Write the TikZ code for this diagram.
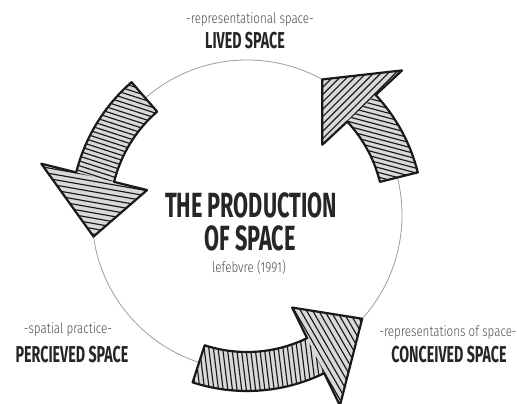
\documentclass[tikz,border=0pt]{standalone}
\usepackage{fontspec}
\setsansfont{Fira Sans}
\newfontfamily\TitleFont[FakeStretch=0.62]{Fira Sans}
\newfontfamily\SubFont[FakeStretch=0.8]{Fira Sans Light}
\usetikzlibrary{positioning}

\newcommand{\BodyPath}[2]{(#1:137) arc[start angle=#1, end angle=#2, radius=137] -- (#2:176) arc[start angle=#2, end angle=#1, radius=176] -- cycle}
\newcommand{\HeadPath}[2]{(#1:103) -- (#2:155) -- (#1:212) -- cycle}
\newcommand{\HatchArrow}[5]{%
	\fill[arrowFill] \BodyPath{#1}{#2};
	\fill[arrowFill] \HeadPath{#2}{#3};
	\begin{scope}
		\clip \BodyPath{#1}{#2};
		\foreach \k in {-18,...,18}
			\draw[hatchStyle, shift={(#1/2+#2/2:156)}, rotate=#4] (-95,\k*4.6) -- (95,\k*4.6);
	\end{scope}
	\begin{scope}
		\clip \HeadPath{#2}{#3};
		\foreach \k in {-16,...,16}
			\draw[hatchStyle, shift={(#2/3+#2/3+#3/3:155)}, rotate=#5] (-90,\k*5.2) -- (90,\k*5.2);
	\end{scope}
	\draw[arrowLine] (#1:137) arc[start angle=#1, end angle=#2, radius=137] -- (#2:103) -- (#3:155) -- (#2:212) -- (#2:176) arc[start angle=#2, end angle=#1, radius=176] -- cycle;
}

\begin{document}
\begin{tikzpicture}[x=1pt, y=1pt, font=\sffamily]
	\tikzstyle{arrowFill} = [fill=gray!30]
	\tikzstyle{hatchStyle} = [line width=1.15pt, black!90]
	\tikzstyle{arrowLine} = [line width=2.2pt, black!90, line join=round]
	\tikzstyle{ringStyle} = [line width=0.8pt, gray!75]
	\tikzstyle{bigLabel} = [inner sep=0pt, font=\TitleFont\bfseries\fontsize{23}{25}\selectfont, black!85]
	\tikzstyle{smallLabel} = [inner sep=0pt, font=\SubFont\fontsize{14.5}{16}\selectfont, black!70]
	\tikzstyle{titleLabel} = [inner sep=0pt, font=\TitleFont\bfseries\fontsize{35}{38}\selectfont, black!85]
	\useasboundingbox (0,0) rectangle (517,404);
	\fill[white] (0,0) rectangle (517,404);
	\coordinate (centre) at (247,189);
	\draw[ringStyle] (centre) circle[radius=155];
	\begin{scope}[shift={(centre)}]
		\HatchArrow{131}{166}{188}{-18}{-10}
		\HatchArrow{14}{43}{61}{-15}{45}
		\HatchArrow{252}{296}{318}{97}{-60}
	\end{scope}
	\node[titleLabel] (title1) at (251,199) {THE PRODUCTION};
	\node[titleLabel] (title2) at (250,166) {OF SPACE};
	\node[smallLabel] (author) at (249,137) {lefebvre (1991)};
	\node[smallLabel] (livedSub) at (250,384) {-representational space-};
	\node[bigLabel] (lived) at (245,363) {LIVED SPACE};
	\node[smallLabel] (percSub) at (68,74) {-spatial practice-};
	\node[bigLabel] (perc) at (72,49) {PERCIEVED SPACE};
	\node[smallLabel] (concSub) at (448,71) {-representations of space-};
	\node[bigLabel] (conc) at (449,49) {CONCEIVED SPACE};
\end{tikzpicture}
\end{document}
